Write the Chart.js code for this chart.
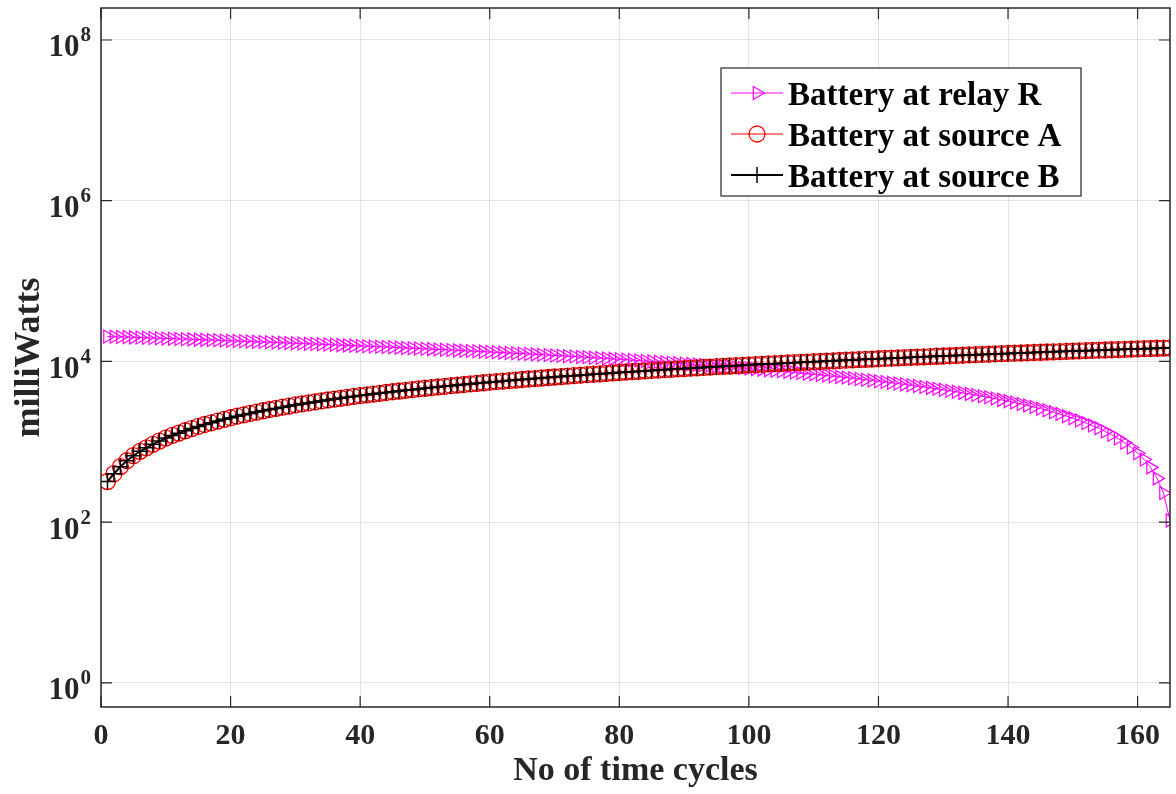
<!DOCTYPE html>
<html>
<head>
<meta charset="utf-8">
<script src="https://cdn.jsdelivr.net/npm/chart.js@4.4.0/dist/chart.umd.min.js"></script>
<style>
  html, body { margin: 0; padding: 0; background: #fff; }
  #wrap { width: 1176px; height: 794px; }
</style>
</head>
<body>
<div id="wrap"><canvas id="batteryChart" width="1176" height="794"></canvas></div>
<script>
// time cycles 1..165
const cycles = Array.from({ length: 165 }, (_, i) => i + 1);

// battery level at the relay (mW)
const relayR = [
  20400, 20280, 20150, 20030, 19900, 19780, 19660, 19530, 19410, 19290,
  19160, 19040, 18910, 18790, 18670, 18540, 18420, 18300, 18170, 18050,
  17920, 17800, 17680, 17550, 17430, 17310, 17180, 17060, 16940, 16810,
  16690, 16560, 16440, 16320, 16190, 16070, 15940, 15820, 15700, 15570,
  15450, 15330, 15200, 15080, 14960, 14830, 14710, 14580, 14460, 14340,
  14210, 14090, 13960, 13840, 13720, 13590, 13470, 13350, 13220, 13100,
  12980, 12850, 12730, 12600, 12480, 12360, 12230, 12110, 11980, 11860,
  11740, 11610, 11490, 11370, 11240, 11120, 11000, 10870, 10750, 10620,
  10500, 10380, 10250, 10130, 10000, 9880, 9760, 9630, 9510, 9390,
  9260, 9140, 9020, 8890, 8770, 8640, 8520, 8400, 8270, 8150,
  8020, 7900, 7780, 7650, 7530, 7410, 7280, 7160, 7040, 6910,
  6790, 6660, 6540, 6420, 6290, 6170, 6040, 5920, 5800, 5670,
  5550, 5430, 5300, 5180, 5060, 4930, 4810, 4680, 4560, 4440,
  4310, 4190, 4060, 3940, 3820, 3690, 3570, 3450, 3320, 3200,
  3080, 2950, 2830, 2700, 2580, 2460, 2330, 2210, 2080, 1960,
  1840, 1710, 1590, 1470, 1340, 1220, 1100, 970, 850, 720,
  600, 480, 350, 230, 105
];

// battery level at source A (mW)
const sourceA = [
  320, 400, 490, 580, 670, 760, 840, 930, 1020, 1110,
  1200, 1280, 1370, 1460, 1550, 1640, 1720, 1810, 1900, 1990,
  2080, 2160, 2250, 2340, 2430, 2520, 2600, 2690, 2780, 2870,
  2960, 3040, 3130, 3220, 3310, 3400, 3480, 3570, 3660, 3750,
  3840, 3920, 4010, 4100, 4190, 4280, 4360, 4450, 4540, 4630,
  4720, 4800, 4890, 4980, 5070, 5160, 5240, 5330, 5420, 5510,
  5600, 5680, 5770, 5860, 5950, 6040, 6120, 6210, 6300, 6390,
  6480, 6560, 6650, 6740, 6830, 6920, 7000, 7090, 7180, 7270,
  7360, 7440, 7530, 7620, 7710, 7800, 7880, 7970, 8060, 8150,
  8240, 8320, 8410, 8500, 8590, 8680, 8760, 8850, 8940, 9030,
  9120, 9200, 9290, 9380, 9470, 9560, 9640, 9730, 9820, 9910,
  10000, 10080, 10170, 10260, 10350, 10440, 10520, 10610, 10700, 10790,
  10880, 10960, 11050, 11140, 11230, 11320, 11400, 11490, 11580, 11670,
  11760, 11840, 11930, 12020, 12110, 12200, 12280, 12370, 12460, 12550,
  12640, 12720, 12810, 12900, 12990, 13080, 13160, 13250, 13340, 13430,
  13520, 13600, 13690, 13780, 13870, 13960, 14040, 14130, 14220, 14310,
  14400, 14480, 14570, 14660, 14750
];

// battery level at source B (mW) - sits on top of A
const sourceB = [
  320, 400, 490, 580, 670, 760, 840, 930, 1020, 1110,
  1200, 1280, 1370, 1460, 1550, 1640, 1720, 1810, 1900, 1990,
  2080, 2160, 2250, 2340, 2430, 2520, 2600, 2690, 2780, 2870,
  2960, 3040, 3130, 3220, 3310, 3400, 3480, 3570, 3660, 3750,
  3840, 3920, 4010, 4100, 4190, 4280, 4360, 4450, 4540, 4630,
  4720, 4800, 4890, 4980, 5070, 5160, 5240, 5330, 5420, 5510,
  5600, 5680, 5770, 5860, 5950, 6040, 6120, 6210, 6300, 6390,
  6480, 6560, 6650, 6740, 6830, 6920, 7000, 7090, 7180, 7270,
  7360, 7440, 7530, 7620, 7710, 7800, 7880, 7970, 8060, 8150,
  8240, 8320, 8410, 8500, 8590, 8680, 8760, 8850, 8940, 9030,
  9120, 9200, 9290, 9380, 9470, 9560, 9640, 9730, 9820, 9910,
  10000, 10080, 10170, 10260, 10350, 10440, 10520, 10610, 10700, 10790,
  10880, 10960, 11050, 11140, 11230, 11320, 11400, 11490, 11580, 11670,
  11760, 11840, 11930, 12020, 12110, 12200, 12280, 12370, 12460, 12550,
  12640, 12720, 12810, 12900, 12990, 13080, 13160, 13250, 13340, 13430,
  13520, 13600, 13690, 13780, 13870, 13960, 14040, 14130, 14220, 14310,
  14400, 14480, 14570, 14660, 14750
];

const seriesLabels = ['Battery at relay R', 'Battery at source A', 'Battery at source B'];
const yTickValues = [1, 1e2, 1e4, 1e6, 1e8];
const yTickExponents = ['0', '2', '4', '6', '8'];

const FONT = 'Liberation Serif';
const AXIS_COLOR = '#262626';
const GRID_COLOR = '#e3e3e3';

function toPoints(values) {
  return values.map((v, i) => ({ x: cycles[i], y: v }));
}

// box, inward ticks, y labels with exponents, legend
const matlabAxes = {
  id: 'matlabAxes',
  afterDraw(chart) {
    const ctx = chart.ctx;
    const area = chart.chartArea;
    const xs = chart.scales.x;
    const ys = chart.scales.y;
    ctx.save();

    // box
    ctx.strokeStyle = AXIS_COLOR;
    ctx.lineWidth = 1.5;
    ctx.strokeRect(area.left, area.top, area.right - area.left, area.bottom - area.top);

    // inward ticks
    ctx.lineWidth = 1.2;
    ctx.beginPath();
    xs.ticks.forEach(t => {
      const px = xs.getPixelForValue(t.value);
      ctx.moveTo(px, area.bottom); ctx.lineTo(px, area.bottom - 11);
      ctx.moveTo(px, area.top); ctx.lineTo(px, area.top + 11);
    });
    yTickValues.forEach(v => {
      const py = ys.getPixelForValue(v);
      ctx.moveTo(area.left, py); ctx.lineTo(area.left + 11, py);
      ctx.moveTo(area.right, py); ctx.lineTo(area.right - 11, py);
    });
    ctx.stroke();

    // y tick labels 10^n
    ctx.fillStyle = AXIS_COLOR;
    ctx.textBaseline = 'alphabetic';
    yTickValues.forEach((v, i) => {
      const py = ys.getPixelForValue(v);
      ctx.font = 'bold 21px "' + FONT + '"';
      const expW = ctx.measureText(yTickExponents[i]).width;
      const expX = 91 - expW;
      ctx.textAlign = 'left';
      ctx.fillText(yTickExponents[i], expX, py + 1.5);
      ctx.font = 'bold 31px "' + FONT + '"';
      ctx.textAlign = 'right';
      ctx.fillText('10', expX - 1, py + 16.5);
    });

    // legend
    const lg = { left: 721, top: 68, width: 360, height: 128, firstRow: 25, rowHeight: 41, x0: 731, x1: 783, textX: 788 };
    ctx.fillStyle = '#ffffff';
    ctx.fillRect(lg.left, lg.top, lg.width, lg.height);
    ctx.strokeStyle = AXIS_COLOR;
    ctx.lineWidth = 1.2;
    ctx.strokeRect(lg.left, lg.top, lg.width, lg.height);
    [0, 1, 2].forEach(row => {
      const ds = chart.data.datasets[row];
      const cy = lg.top + lg.firstRow + row * lg.rowHeight;
      ctx.strokeStyle = ds.borderColor;
      ctx.lineWidth = ds.borderWidth;
      ctx.beginPath();
      ctx.moveTo(lg.x0, cy); ctx.lineTo(lg.x1, cy);
      ctx.stroke();
      ctx.fillStyle = 'rgba(0,0,0,0)';
      ctx.lineWidth = ds.pointBorderWidth;
      Chart.helpers.drawPoint(ctx, {
        pointStyle: ds.pointStyle,
        radius: ds.pointRadius,
        rotation: ds.pointRotation || 0,
        borderWidth: ds.pointBorderWidth
      }, (lg.x0 + lg.x1) / 2, cy);
      ctx.fillStyle = '#000000';
      ctx.font = 'bold 33px "' + FONT + '"';
      ctx.textAlign = 'left';
      ctx.fillText(ds.label, lg.textX, cy + 12);
    });

    ctx.restore();
  }
};

const ctx = document.getElementById('batteryChart').getContext('2d');

new Chart(ctx, {
  type: 'line',
  data: {
    datasets: [
      {
        label: seriesLabels[0],
        data: toPoints(relayR),
        borderColor: '#ff00ff',
        borderWidth: 1,
        pointStyle: 'triangle',
        pointRotation: 90,
        pointRadius: 7.5,
        pointBorderWidth: 1.2,
        pointBorderColor: '#ff00ff',
        pointBackgroundColor: 'rgba(0,0,0,0)',
        order: 3
      },
      {
        label: seriesLabels[1],
        data: toPoints(sourceA),
        borderColor: '#ff0000',
        borderWidth: 1,
        pointStyle: 'circle',
        pointRadius: 8,
        pointBorderWidth: 1.3,
        pointBorderColor: '#ff0000',
        pointBackgroundColor: 'rgba(0,0,0,0)',
        order: 2
      },
      {
        label: seriesLabels[2],
        data: toPoints(sourceB),
        borderColor: '#000000',
        borderWidth: 2,
        pointStyle: 'cross',
        pointRadius: 8,
        pointBorderWidth: 1.5,
        pointBorderColor: '#000000',
        pointBackgroundColor: 'rgba(0,0,0,0)',
        order: 1
      }
    ]
  },
  options: {
    responsive: false,
    animation: false,
    events: [],
    devicePixelRatio: 1,
    layout: { autoPadding: false, padding: { top: 8, right: 6, left: 0, bottom: 0 } },
    elements: { line: { tension: 0 } },
    plugins: {
      legend: { display: false },
      tooltip: { enabled: false }
    },
    scales: {
      x: {
        type: 'linear',
        min: 0,
        max: 165,
        afterFit: scale => {
          scale.height = 87;
          scale.paddingLeft = 0;
          scale.paddingRight = 0;
        },
        grid: { color: GRID_COLOR, lineWidth: 1, drawTicks: true, tickLength: 11, tickColor: 'rgba(0,0,0,0)' },
        border: { display: false },
        ticks: {
          stepSize: 20,
          includeBounds: false,
          padding: 0,
          color: AXIS_COLOR,
          font: { family: FONT, size: 30, weight: 'bold' },
          maxRotation: 0,
          minRotation: 0
        },
        title: {
          display: true,
          text: 'No of time cycles',
          color: AXIS_COLOR,
          font: { family: FONT, size: 34, weight: 'bold' },
          padding: { top: 0, bottom: 2 }
        }
      },
      y: {
        type: 'logarithmic',
        min: 0.5,
        max: 2.5e8,
        afterFit: scale => {
          scale.width = 101;
          scale.paddingTop = 0;
          scale.paddingBottom = 0;
        },
        afterBuildTicks: axis => { axis.ticks = yTickValues.map(v => ({ value: v })); },
        grid: { color: GRID_COLOR, lineWidth: 1, drawTicks: false },
        border: { display: false },
        ticks: { display: false },
        title: {
          display: true,
          text: 'milliWatts',
          color: AXIS_COLOR,
          font: { family: FONT, size: 36, weight: 'bold' },
          padding: { top: 8, bottom: 0 }
        }
      }
    }
  },
  plugins: [matlabAxes]
});
</script>
</body>
</html>
